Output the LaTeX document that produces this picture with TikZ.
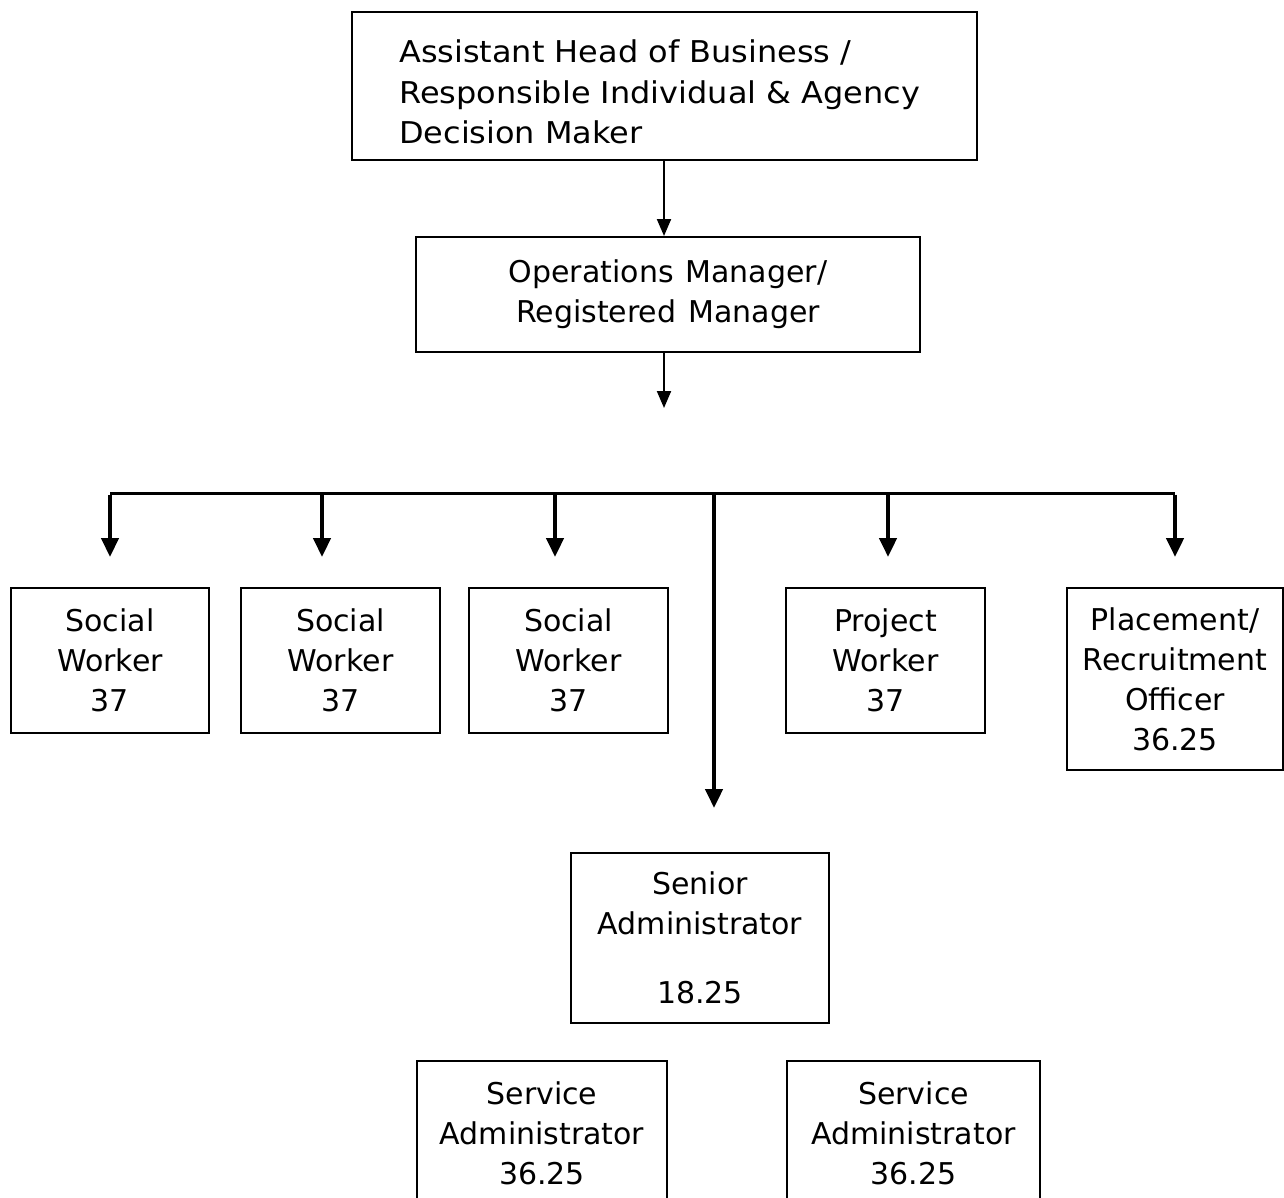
\documentclass[tikz,border=0pt]{standalone}
\usepackage{fontspec}
\setmainfont{DejaVu Sans}
\newfontfamily\topfont[FakeStretch=1.065]{DejaVu Sans}
\usetikzlibrary{arrows.meta,calc}
\newcommand{\widesp}[1]{\spaceskip=#1\relax}
\begin{document}
\begin{tikzpicture}[x=1pt,y=-1pt,
  box/.style={draw=black,line width=2pt,rectangle,inner sep=0pt,align=center,
    font=\fontsize{30pt}{40pt}\selectfont},
  txt/.style={inner sep=0pt,align=left,font=\topfont\fontsize{30pt}{40.5pt}\selectfont},
  thin/.style={line width=2pt,-{Triangle[width=14pt,length=17pt]}},
  thick/.style={line width=4.5pt,-{Triangle[width=17pt,length=19pt]}},
  bar/.style={line width=3pt}]
\useasboundingbox (0,0) rectangle (1284,1197);
\clip (0,0) rectangle (1284,1197);
% top box
\node[box,minimum width=625pt,minimum height=148pt] (top) at (664.5,86) {};
\node[txt,anchor=west] (topt) at ($(top.west)+(48,6)$)
  {Assistant Head of Business /\\Responsible Individual \& Agency\\Decision Maker};
% operations
\node[box,minimum width=504pt,minimum height=115pt] (ops) at (668,294.5)
  {\widesp{12pt}Operations Manager/\\\widesp{12pt}Registered Manager};
\coordinate (opsend) at (664,408);
\coordinate (hl) at (110,493);
\coordinate (hr) at (1175,493);
\coordinate (hm) at (714,493);
\coordinate (h2) at (322,493);
\coordinate (h3) at (555,493);
\coordinate (h5) at (888,493);
\coordinate (t1) at (110,557);
\coordinate (t2) at (322,557);
\coordinate (t3) at (555,557);
\coordinate (t5) at (888,557);
\coordinate (t6) at (1175,557);
\coordinate (tm) at (714,808);
% row boxes
\node[box,minimum width=198pt,minimum height=145pt] (sw1) at (110,660.5) {Social\\Worker\\37};
\node[box,minimum width=199pt,minimum height=145pt] (sw2) at (340.5,660.5) {Social\\Worker\\37};
\node[box,minimum width=199pt,minimum height=145pt] (sw3) at (568.5,660.5) {Social\\Worker\\37};
\node[box,minimum width=199pt,minimum height=145pt] (pw) at (885.5,660.5) {Project\\Worker\\37};
\node[box,minimum width=216pt,minimum height=182pt] (pro) at (1175,679) {Placement/\\Recruitment\\Officer\\36.25};
\node[box,minimum width=258pt,minimum height=170pt] (sa) at (700,938) {Senior\\Administrator\\[29pt]18.25};
\node[box,minimum width=250pt,minimum height=144pt] (sv1) at (542,1133) {Service\\Administrator\\36.25};
\node[box,minimum width=253pt,minimum height=144pt] (sv2) at (913.5,1133) {Service\\Administrator\\36.25};
% connectors
\draw[thin] (top.south -| 664,0) -- (ops.north -| 664,0);
\draw[thin] (ops.south -| opsend) -- (opsend);
\draw[bar] (hl) -- (hr);
\draw[thick] ([yshift=-1.5pt]hl) -- (t1);
\draw[thick] (h2) -- (t2);
\draw[thick] (h3) -- (t3);
\draw[thick] (h5) -- (t5);
\draw[thick] ([yshift=-1.5pt]hr) -- (t6);
\draw[thick] (hm) -- (tm);
\end{tikzpicture}
\end{document}
